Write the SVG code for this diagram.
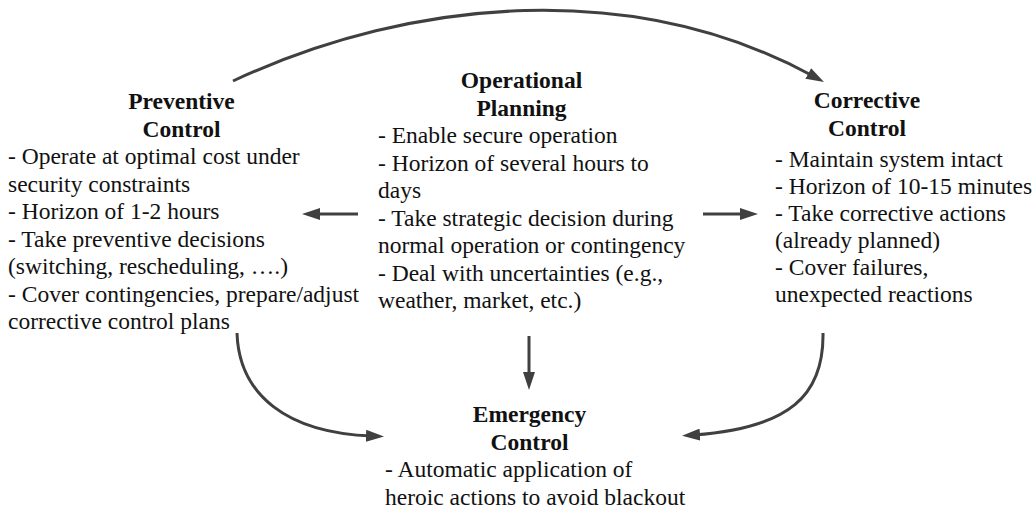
<svg xmlns="http://www.w3.org/2000/svg" width="1033" height="513" viewBox="0 0 1033 513">
  <style>
    text { font-family: "Liberation Serif", "Times New Roman", serif; font-size: 23.5px; fill: #111; }
    .title { font-weight: bold; text-anchor: middle; }
    .conn { fill: none; stroke: #404040; stroke-width: 3; marker-end: url(#ah); }
  </style>
  <defs>
    <marker id="ah" markerUnits="userSpaceOnUse" markerWidth="18" markerHeight="12" refX="6" refY="6" orient="auto">
      <path d="M0,0 L18,6 L0,12 z" fill="#404040"/>
    </marker>
  </defs>
  <rect width="1033" height="513" fill="#fff"/>

  <g id="connectors">
    <path class="conn" d="M233,81 C415.6,-4 636.5,-20.3 813.5,76.3"/>
    <path class="conn" d="M358,214 L314,214"/>
    <path class="conn" d="M703,214 L746,214"/>
    <path class="conn" d="M529,336 L529,378"/>
    <path class="conn" d="M237,333 C239,395 287,433 372,436"/>
    <path class="conn" d="M823,333 C824,395 790,428 694,435"/>
  </g>

  <g id="preventive">
    <text class="title" x="181.5" y="109">Preventive</text>
    <text class="title" x="181.5" y="137">Control</text>
    <text x="8" y="164">- Operate at optimal cost under</text>
    <text x="8" y="191.5">security constraints</text>
    <text x="8" y="219">- Horizon of 1-2 hours</text>
    <text x="8" y="246.5">- Take preventive decisions</text>
    <text x="8" y="274">(switching, rescheduling, ….)</text>
    <text x="8" y="301.5">- Cover contingencies, prepare/adjust</text>
    <text x="8" y="329">corrective control plans</text>
  </g>

  <g id="operational">
    <text class="title" x="521.5" y="88">Operational</text>
    <text class="title" x="521.5" y="115.5">Planning</text>
    <text x="378" y="143">- Enable secure operation</text>
    <text x="378" y="170.5">- Horizon of several hours to</text>
    <text x="378" y="198">days</text>
    <text x="378" y="225.5">- Take strategic decision during</text>
    <text x="378" y="253">normal operation or contingency</text>
    <text x="378" y="280.5">- Deal with uncertainties (e.g.,</text>
    <text x="378" y="308">weather, market, etc.)</text>
  </g>

  <g id="corrective">
    <text class="title" x="867" y="108">Corrective</text>
    <text class="title" x="867" y="136">Control</text>
    <text x="775" y="167">- Maintain system intact</text>
    <text x="775" y="194">- Horizon of 10-15 minutes</text>
    <text x="775" y="221">- Take corrective actions</text>
    <text x="775" y="248">(already planned)</text>
    <text x="775" y="275">- Cover failures,</text>
    <text x="775" y="302">unexpected reactions</text>
  </g>

  <g id="emergency">
    <text class="title" x="529.5" y="422">Emergency</text>
    <text class="title" x="529.5" y="450">Control</text>
    <text x="385" y="477">- Automatic application of</text>
    <text x="385" y="505">heroic actions to avoid blackout</text>
  </g>
</svg>
